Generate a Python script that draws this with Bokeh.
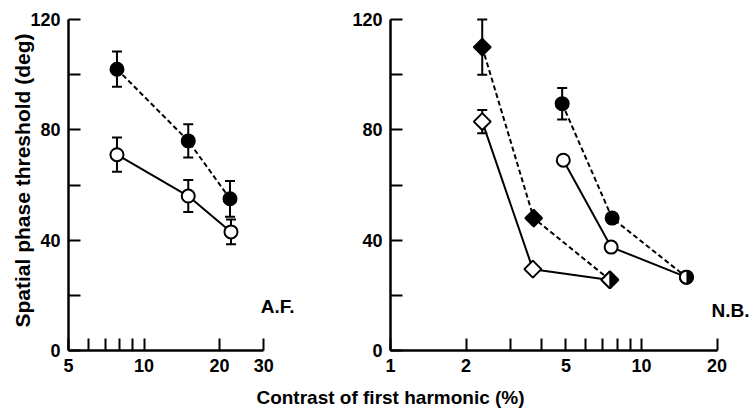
import numpy as np
from bokeh.plotting import figure
from bokeh.models import (Range1d, FixedTicker, Whisker, TeeHead, ColumnDataSource,
                          Label, BasicTickFormatter, Title)
from bokeh.layouts import row, column
from bokeh.embed import file_html
from bokeh.resources import INLINE

# ---------------- data ----------------
# A.F. panel
af_x_filled = [7.8, 15.0, 22.0]
af_y_filled = [102, 76, 55]
af_err_filled = [6.4, 6.0, 6.5]
af_x_open = [7.8, 15.0, 22.2]
af_y_open = [71, 56, 43]
af_err_open = [6.2, 5.8, 4.5]

# N.B. panel
nb_dia_x_filled = [2.32, 3.72, 7.48]
nb_dia_y_filled = [110, 48, 25.6]
nb_dia_x_open = [2.32, 3.69, 7.48]
nb_dia_y_open = [83, 29.5, 25.6]
nb_circ_x_filled = [4.83, 7.64, 15.1]
nb_circ_y_filled = [89.5, 48, 26.6]
nb_circ_x_open = [4.88, 7.57, 15.1]
nb_circ_y_open = [69, 37.5, 26.6]
nb_err_x = [2.32, 2.32, 4.83]
nb_err_y = [110, 83, 89.5]
nb_err = [10, 4.2, 5.7]

af_xticks = [5, 10, 20, 30]
af_xminor = [6, 7, 8, 9]
nb_xticks = [1, 2, 5, 10, 20]
nb_xminor = [3, 4, 6, 7, 8, 9]
yticks = [0, 40, 80, 120]
yminor = [20, 60, 100]

y_title = "Spatial phase threshold (deg)"
x_title = "Contrast of first harmonic (%)"

# ---------------- styling constants ----------------
PX_DEC = 251.0     # pixels per decade on x
PX_UNIT = 2.758    # pixels per y unit
FONT = "Liberation Sans"
FS_TICK = "18px"
FS_TITLE = "19px"
FS_YTITLE = "21px"
FS_LAB = "19px"
H = 385
TOP = 10
BOT = 35
FRAME_H = H - TOP - BOT


def make_panel(width, left, xstart, xticks, xminor, xbounds):
    frame_w = width - left
    p = figure(width=width, height=H, x_axis_type="log",
               x_range=Range1d(xstart, xstart * 10 ** (frame_w / PX_DEC)),
               y_range=Range1d(0, FRAME_H / PX_UNIT),
               min_border_left=left, min_border_right=0,
               min_border_top=TOP, min_border_bottom=BOT,
               toolbar_location=None, output_backend="svg")
    p.outline_line_color = None
    p.grid.visible = False
    p.background_fill_color = "white"
    p.border_fill_color = "white"
    xa = p.xaxis[0]
    ya = p.yaxis[0]
    xa.ticker = FixedTicker(ticks=xticks, minor_ticks=xminor)
    xa.formatter = BasicTickFormatter()
    xa.bounds = xbounds
    ya.ticker = FixedTicker(ticks=yticks, minor_ticks=yminor)
    ya.bounds = (0, 120)
    for ax in (xa, ya):
        ax.axis_line_width = 2.5
        ax.axis_line_color = "black"
        ax.major_tick_in = 12
        ax.major_tick_out = 0
        ax.minor_tick_in = 12
        ax.minor_tick_out = 0
        ax.major_tick_line_width = 2
        ax.minor_tick_line_width = 2
        ax.major_tick_line_color = "black"
        ax.minor_tick_line_color = "black"
        ax.major_label_text_font = FONT
        ax.major_label_text_font_style = "bold"
        ax.major_label_text_font_size = FS_TICK
        ax.major_label_text_color = "black"
        ax.major_label_standoff = 8
    return p


def add_err(p, xs, ys, es):
    src = ColumnDataSource(dict(x=xs, lower=[y - e for y, e in zip(ys, es)],
                                upper=[y + e for y, e in zip(ys, es)]))
    w = Whisker(base="x", lower="lower", upper="upper", source=src, dimension="height",
                line_width=2, line_color="black", level="underlay",
                upper_head=TeeHead(size=10, line_width=2, line_color="black"),
                lower_head=TeeHead(size=10, line_width=2, line_color="black"))
    p.add_layout(w)


def series(p, xs, ys, dashed):
    p.line(xs, ys, line_width=2, line_color="black",
           line_dash="5 3" if dashed else "solid")


def markers(p, xs, ys, marker, filled):
    if marker == "circle":
        p.scatter(xs, ys, marker="circle", size=13, line_width=2, line_color="black",
                  fill_color="black" if filled else "white")
    else:
        p.scatter(xs, ys, marker="square", angle=np.pi / 4, size=12, line_width=2,
                  line_color="black", fill_color="black" if filled else "white")


# ---------------- left panel (A.F.) ----------------
p1 = make_panel(330, 68, 5, af_xticks, af_xminor, (5, 30))
add_err(p1, af_x_filled, af_y_filled, af_err_filled)
add_err(p1, af_x_open, af_y_open, af_err_open)
series(p1, af_x_filled, af_y_filled, True)
series(p1, af_x_open, af_y_open, False)
markers(p1, af_x_filled, af_y_filled, "circle", True)
markers(p1, af_x_open, af_y_open, "circle", False)

p1.add_layout(Label(x=29.2, y=16, text="A.F.", text_baseline="middle", text_align="left",
                    text_font=FONT, text_font_style="bold", text_font_size=FS_LAB,
                    text_color="black"))
p1.add_layout(Title(text=y_title, align="center", offset=-31, standoff=-12,
                    text_font=FONT, text_font_style="bold", text_font_size=FS_YTITLE,
                    text_color="black"), "left")

# ---------------- right panel (N.B.) ----------------
p2 = make_panel(422, 60, 1, nb_xticks, nb_xminor, (1, 20))
add_err(p2, nb_err_x, nb_err_y, nb_err)
series(p2, nb_dia_x_filled, nb_dia_y_filled, True)
series(p2, nb_dia_x_open, nb_dia_y_open, False)
series(p2, nb_circ_x_filled, nb_circ_y_filled, True)
series(p2, nb_circ_x_open, nb_circ_y_open, False)
markers(p2, nb_dia_x_filled, nb_dia_y_filled, "diamond", True)
markers(p2, nb_dia_x_open, nb_dia_y_open, "diamond", False)
markers(p2, nb_circ_x_filled, nb_circ_y_filled, "circle", True)
markers(p2, nb_circ_x_open, nb_circ_y_open, "circle", False)

# shared (half-filled) end points: right half black
hx, hy = nb_circ_x_filled[-1], nb_circ_y_filled[-1]
p2.wedge(x=[hx], y=[hy], radius=6.0, radius_units="screen",
         start_angle=-np.pi / 2, end_angle=np.pi / 2,
         fill_color="black", line_color=None)
dx, dy = nb_dia_x_filled[-1], nb_dia_y_filled[-1]
half = 8.5
f = 10 ** (half / PX_DEC)
d = half / PX_UNIT
p2.patch([dx, dx * f, dx], [dy + d, dy, dy - d], fill_color="black",
         line_color="black", line_width=1)

p2.add_layout(Label(x=19.0, y=14.5, text="N.B.", text_baseline="middle", text_align="left",
                    text_font=FONT, text_font_style="bold", text_font_size=FS_LAB,
                    text_color="black"))

# ---------------- bottom title ----------------
p3 = figure(width=752, height=25, x_range=Range1d(0, 752), y_range=Range1d(0, 25),
            x_axis_location=None, y_axis_location=None, min_border=0,
            toolbar_location=None, output_backend="svg")
p3.outline_line_color = None
p3.grid.visible = False
p3.add_layout(Label(x=390, y=13, text=x_title, text_align="center", text_baseline="middle",
                    text_font=FONT, text_font_style="bold", text_font_size=FS_TITLE,
                    text_color="black"))

layout = column(row(p1, p2, spacing=0), p3, spacing=0)
open("out.html", "w").write(file_html(layout, INLINE))
